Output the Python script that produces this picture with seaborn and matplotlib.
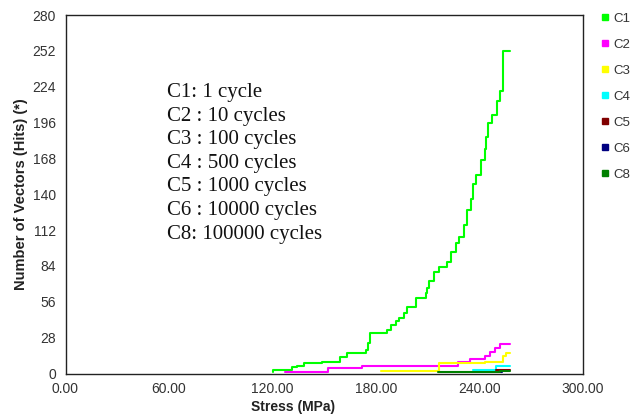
import matplotlib
matplotlib.use("Agg")
import matplotlib.pyplot as plt
from matplotlib.lines import Line2D
import seaborn as sns
import pandas as pd

# Cumulative hit counts versus stress, one stepped series per cycle count
c1_stress = [120.0, 120.5, 131.5, 134.0, 138.0, 148.7, 159.0, 163.0, 174.0, 175.5, 176.5,
             186.5, 188.5, 191.7, 193.5, 196.5, 198.0, 203.0, 208.8, 209.8, 210.8, 213.6,
             216.5, 221.4, 223.3, 226.2, 228.0, 231.0, 233.0, 235.0, 236.0, 238.0, 241.0,
             243.0, 244.0, 245.0, 247.0, 250.0, 251.8, 253.4, 257.6]
c1_hits = [1, 3, 5, 6, 8, 9, 13, 16, 18, 24, 32,
           34, 38, 41, 43, 47, 52, 59, 63, 67, 72, 79,
           83, 87, 95, 102, 107, 116, 128, 136, 148, 155, 167,
           175, 185, 196, 202, 213, 221, 252, 252]

c2_stress = [127.0, 152.3, 171.7, 227.6, 234.4, 243.0, 246.0, 249.0, 251.8, 257.6]
c2_hits = [1, 4, 6, 9, 11, 14, 17, 20, 23, 23]

c3_stress = [183.0, 216.5, 243.0, 253.5, 255.5, 257.6]
c3_hits = [2, 8, 9, 14, 16, 16]

c4_stress = [236.5, 249.5, 257.6]
c4_hits = [3, 6, 6]

c5_stress = [249.5, 257.6]
c5_hits = [3, 3]

c6_stress = [251.8, 253.2]
c6_hits = [1, 1]

c8_stress = [216.0, 252.0, 257.6]
c8_hits = [1, 2, 2]

series_names = ["C1", "C2", "C3", "C4", "C5", "C6", "C8"]
series_colors = ["#00ff00", "#ff00ff", "#ffff00", "#00ffff", "#800000", "#000080", "#008000"]
cycle_notes = ["C1: 1 cycle", "C2 : 10 cycles", "C3 : 100 cycles", "C4 : 500 cycles",
               "C5 : 1000 cycles", "C6 : 10000 cycles", "C8: 100000 cycles"]

x_ticks = [0, 60, 120, 180, 240, 300]
y_ticks = [0, 28, 56, 84, 112, 140, 168, 196, 224, 252, 280]

frames = []
for name, xs, ys in zip(series_names,
                        [c1_stress, c2_stress, c3_stress, c4_stress, c5_stress, c6_stress, c8_stress],
                        [c1_hits, c2_hits, c3_hits, c4_hits, c5_hits, c6_hits, c8_hits]):
    frames.append(pd.DataFrame({"stress": xs, "hits": ys, "series": name}))
df = pd.concat(frames, ignore_index=True)

sns.set_style("white")
plt.rcParams["font.family"] = ["Liberation Sans", "DejaVu Sans"]

W, H = 631, 418
fig = plt.figure(figsize=(W / 100, H / 100), dpi=100)
left, right, top, bottom = 65.5, 583, 15, 373.5
ax = fig.add_axes([left / W, (H - bottom) / H, (right - left) / W, (bottom - top) / H])

palette = dict(zip(series_names, series_colors))
sns.lineplot(data=df, x="stress", y="hits", hue="series", palette=palette,
             estimator=None, sort=True, drawstyle="steps-post", linewidth=1.5,
             legend=False, ax=ax)

ax.set_xlim(0, 300)
ax.set_ylim(0, 280)
ax.set_xticks(x_ticks)
ax.set_xticklabels([f"{v:.2f}" for v in x_ticks])
ax.set_xticks(range(30, 300, 60), minor=True)
ax.set_yticks(y_ticks)
ax.set_yticklabels([str(v) for v in y_ticks])

ax.tick_params(axis="x", which="both", direction="in", length=4, width=1,
               colors="#222222", labelcolor="#333333", labelsize=10, pad=6)
ax.tick_params(axis="y", which="major", direction="out", length=4, width=1,
               colors="#222222", labelcolor="#333333", labelsize=10, pad=3)
for sp in ax.spines.values():
    sp.set_visible(True)
    sp.set_color("#222222")
    sp.set_linewidth(1.0)

ax.set_xlabel("Stress (MPa)", fontsize=10, fontweight="bold", color="#222222")
ax.xaxis.set_label_coords((293 - left) / (right - left), -(400 - bottom) / (bottom - top))
ax.set_ylabel("Number of Vectors (Hits) (*)", fontsize=10.5, fontweight="bold",
              color="#222222")
ax.yaxis.set_label_coords(-(left - 28) / (right - left), 0.5)

# Cycle-count key inside the plotting area
for i, note in enumerate(cycle_notes):
    fig.text(167 / W, 1 - (92.5 + i * 23.6) / H, note, family="Liberation Serif",
             fontsize=15, color="#111111", va="center", ha="left")

# Square-marker legend to the right of the axes
handles = [Line2D([], [], marker="s", linestyle="", color=c, markersize=5) for c in series_colors]
fig.legend(handles, series_names, loc="upper left",
           bbox_to_anchor=(595 / W, 1 - 7 / H), bbox_transform=fig.transFigure,
           frameon=False, fontsize=9.5, handlelength=0.7, handletextpad=0.3,
           labelspacing=1.05, borderaxespad=0, labelcolor="#333333")

fig.savefig("out.png", dpi=100, facecolor="white")
